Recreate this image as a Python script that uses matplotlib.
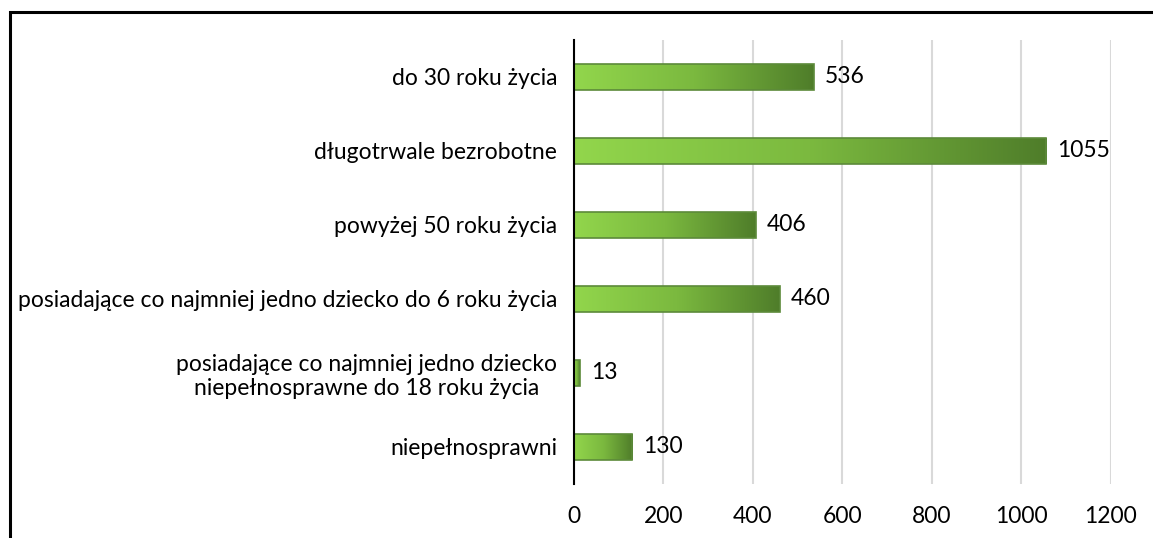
import numpy as np
import matplotlib
matplotlib.use('Agg')
from matplotlib import pyplot as plt
from matplotlib.colors import LinearSegmentedColormap
from matplotlib.patches import Rectangle

categories = [
    'do 30 roku życia',
    'długotrwale bezrobotne',
    'powyżej 50 roku życia',
    'posiadające co najmniej jedno dziecko do 6 roku życia',
    'posiadające co najmniej jedno dziecko\nniepełnosprawne do 18 roku życia',
    'niepełnosprawni',
]
values = [536, 1055, 406, 460, 13, 130]
xticks = [0, 200, 400, 600, 800, 1000, 1200]

plt.rcParams['font.family'] = ['Lato', 'DejaVu Sans']
fs = 16.5

fig = plt.figure(figsize=(11.53, 5.38), dpi=100)
ax = fig.add_axes([0.4978, 0.1004, 0.4657, 0.8253])

grad = LinearSegmentedColormap.from_list('g', ['#92d64c', '#7bb93f', '#4f7d2a'])
ramp = np.linspace(0, 1, 256).reshape(1, -1)
h = 0.36
ypos = np.arange(len(values))
for y, v in zip(ypos, values):
    im = ax.imshow(ramp, cmap=grad, aspect='auto', extent=[0, v, y + h / 2, y - h / 2], zorder=3)
    bar = ax.barh(y, v, height=h, color='none', edgecolor='#5c8a3a', linewidth=1.2, zorder=4)
    im.set_clip_path(bar.patches[0])
    ax.annotate(str(v), (v, y), xytext=(8, 0), textcoords='offset points',
                va='center', ha='left', fontsize=fs, color='black')

ax.set_xlim(0, 1200)
ax.set_ylim(len(values) - 0.5, -0.5)
ax.set_yticks(ypos)
ax.set_yticklabels(categories, fontsize=fs, multialignment='center')
ax.set_xticks(xticks)
ax.set_xticklabels([str(t) for t in xticks], fontsize=fs)
ax.tick_params(axis='both', length=0)
ax.tick_params(axis='y', pad=12)
ax.tick_params(axis='x', pad=16)
ax.grid(axis='x', color='#d9d9d9', linewidth=1.5, zorder=0)
ax.set_axisbelow(True)
for s in ['top', 'right', 'bottom']:
    ax.spines[s].set_visible(False)
ax.spines['left'].set_color('black')
ax.spines['left'].set_linewidth(1.5)
ax.spines['left'].set_zorder(5)

# outer frame around the chart area
fig.patches.append(Rectangle((9.5 / 1153, -0.1), 1.2, (538 - 12.5) / 538 + 0.1,
                             transform=fig.transFigure, fill=False,
                             edgecolor='black', linewidth=2.2))

plt.savefig('out.png', dpi=100)
